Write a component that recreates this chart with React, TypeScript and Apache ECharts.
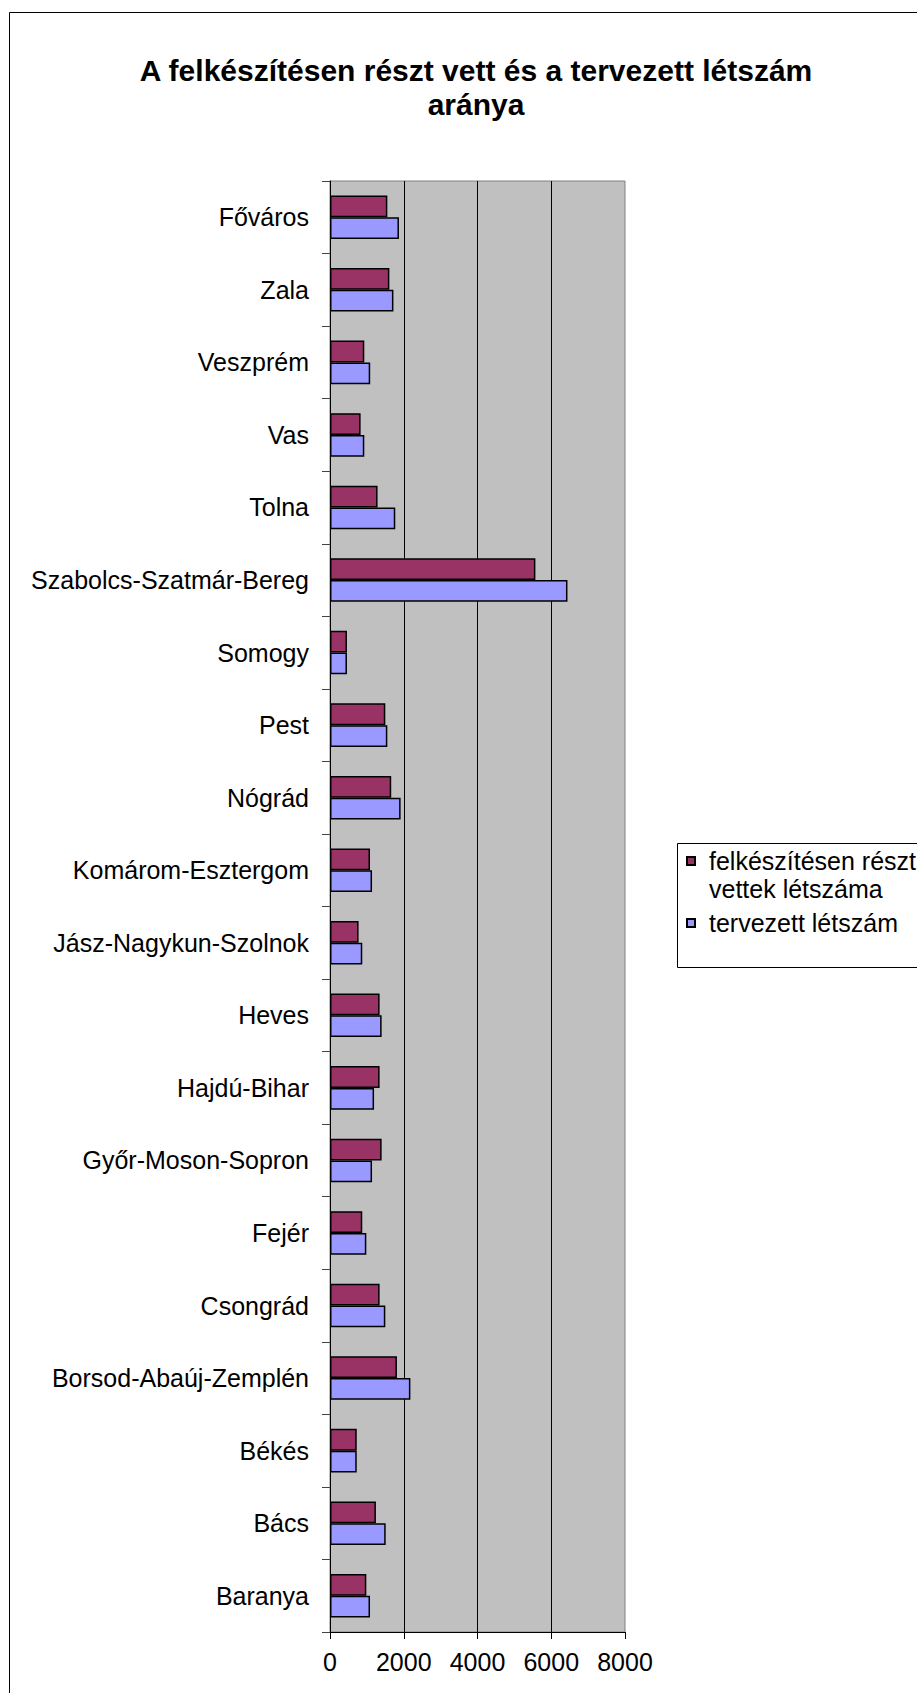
import React, { useEffect, useRef } from "react";
import * as echarts from "echarts";

const TITLE = "A felkészítésen részt vett és a tervezett létszám\naránya";
const CATEGORIES = [
  "Főváros",
  "Zala",
  "Veszprém",
  "Vas",
  "Tolna",
  "Szabolcs-Szatmár-Bereg",
  "Somogy",
  "Pest",
  "Nógrád",
  "Komárom-Esztergom",
  "Jász-Nagykun-Szolnok",
  "Heves",
  "Hajdú-Bihar",
  "Győr-Moson-Sopron",
  "Fejér",
  "Csongrád",
  "Borsod-Abaúj-Zemplén",
  "Békés",
  "Bács",
  "Baranya",
];
const SERIES_NAMES = ["felkészítésen részt\nvettek létszáma", "tervezett létszám"];
const PARTICIPANTS = [1555, 1610, 930, 830, 1290, 5570, 460, 1500, 1660, 1085, 775, 1345, 1345, 1400, 875, 1345, 1815, 725, 1245, 985];
const PLANNED = [1870, 1720, 1090, 930, 1770, 6440, 460, 1555, 1915, 1140, 875, 1400, 1195, 1140, 985, 1500, 2180, 725, 1510, 1085];
const X_TICKS = { min: 0, max: 8000, interval: 2000 };

const FONT = "'Liberation Sans', Arial, sans-serif";

export default function App() {
  const ref = useRef<HTMLDivElement>(null);
  useEffect(() => {
    if (!ref.current) return;
    const chart = echarts.init(ref.current, null, { renderer: "svg" });
    chart.setOption({
      animation: false,
      backgroundColor: "#ffffff",
      textStyle: { fontFamily: FONT },
      title: {
        text: TITLE,
        left: 471,
        top: 48,
        textAlign: "center",
        textStyle: { fontFamily: FONT, fontSize: 30, fontWeight: "bold", color: "#000", lineHeight: 34 },
      },
      graphic: [
        {
          type: "rect",
          shape: { x: 9.5, y: 12.5, width: 1200, height: 2000 },
          style: { fill: "none", stroke: "#000", lineWidth: 1 },
          silent: true,
        },
        {
          type: "rect",
          shape: { x: 677.5, y: 843.5, width: 400, height: 124 },
          style: { fill: "none", stroke: "#000", lineWidth: 1 },
          silent: true,
        },
      ],
      legend: {
        orient: "vertical",
        left: 681,
        top: 814,
        icon: "rect",
        itemWidth: 8,
        itemHeight: 8,
        itemGap: 6,
        formatter: (name: string) => (name.indexOf("\n") >= 0 ? "\n" + name : name),
        textStyle: { fontFamily: FONT, fontSize: 25, color: "#000", lineHeight: 28, padding: [0, 0, 0, 9] },
        data: SERIES_NAMES,
      },
      grid: {
        left: 330,
        top: 181,
        width: 295,
        height: 1451,
        show: true,
        backgroundColor: "#C0C0C0",
        borderColor: "#808080",
        borderWidth: 1,
      },
      xAxis: {
        type: "value",
        min: X_TICKS.min,
        max: X_TICKS.max,
        interval: X_TICKS.interval,
        axisLine: { show: true, lineStyle: { color: "#000", width: 1 } },
        axisTick: { show: true, length: 7, lineStyle: { color: "#000" } },
        axisLabel: { fontFamily: FONT, fontSize: 25, color: "#000", margin: 17, formatter: (v: number) => String(v) },
        splitLine: { show: true, showMinLine: false, showMaxLine: false, lineStyle: { color: "#000", width: 1 } },
      },
      yAxis: {
        type: "category",
        inverse: true,
        data: CATEGORIES,
        axisLine: { show: true, lineStyle: { color: "#000", width: 1 } },
        axisTick: { show: true, length: 8, lineStyle: { color: "#444" } },
        axisLabel: { fontFamily: FONT, fontSize: 25, color: "#000", margin: 21, interval: 0 },
        splitLine: { show: false },
      },
      series: [
        {
          name: SERIES_NAMES[0],
          type: "bar",
          data: PARTICIPANTS,
          barGap: "0%",
          barCategoryGap: "40%",
          itemStyle: { color: "#993366", borderColor: "#000", borderWidth: 1.5 },
        },
        {
          name: SERIES_NAMES[1],
          type: "bar",
          data: PLANNED,
          barGap: "0%",
          barCategoryGap: "40%",
          itemStyle: { color: "#9999FF", borderColor: "#000", borderWidth: 1.5 },
        },
      ],
    });
    return () => chart.dispose();
  }, []);
  return <div ref={ref} style={{ position: "absolute", left: 0, top: 0, width: 917, height: 1693 }} />;
}
